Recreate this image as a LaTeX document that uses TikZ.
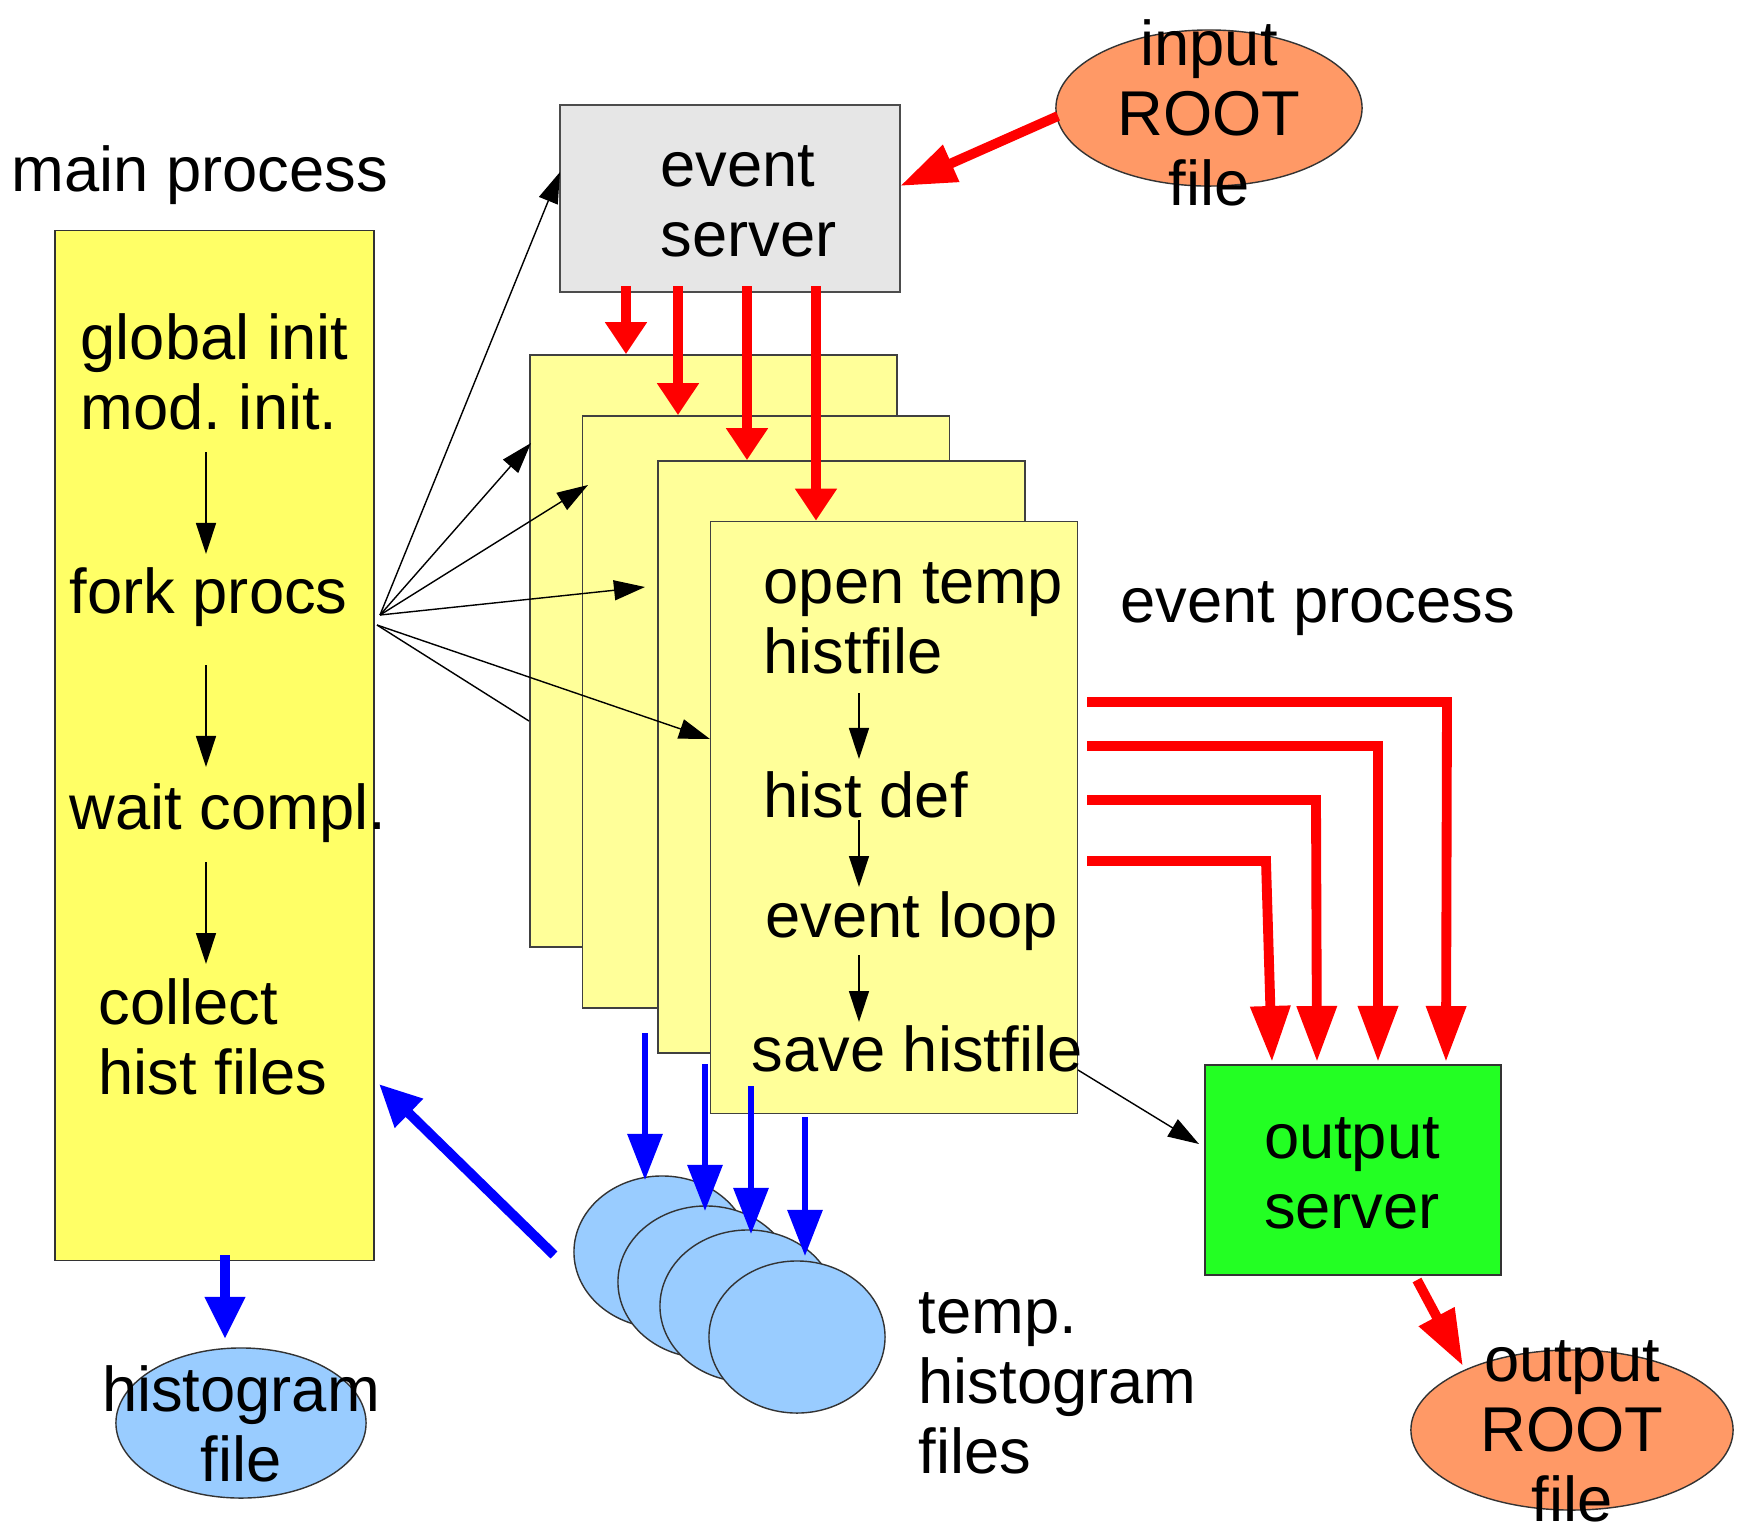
\documentclass[tikz,border=0pt]{standalone}
\usepackage{fontspec}
\setmainfont{Liberation Sans}
\usepackage{xcolor}
\usepackage{tikz}
\usetikzlibrary{arrows.meta,positioning,shapes.geometric}
\frenchspacing
\definecolor{mainyellow}{RGB}{255,255,102}
\definecolor{procyellow}{RGB}{255,255,153}
\definecolor{servergrey}{RGB}{230,230,230}
\definecolor{outgreen}{RGB}{35,255,35}
\definecolor{rootorange}{RGB}{255,153,102}
\definecolor{histblue}{RGB}{153,204,255}
\tikzset{
  label/.style={inner sep=0pt,align=left,font=\fontsize{18}{19.9}\selectfont},
  mainbox/.style={rectangle,draw=black!80,fill=mainyellow,minimum width=3.19cm,
    minimum height=10.29cm,inner sep=0pt},
  procbox/.style={rectangle,draw=black!75,fill=procyellow,minimum width=3.67cm,
    minimum height=5.92cm,inner sep=0pt},
  serverbox/.style={rectangle,draw=black!70,fill=servergrey,minimum width=3.40cm,
    minimum height=1.87cm,inner sep=0pt},
  outbox/.style={rectangle,draw=black!80,fill=outgreen,minimum width=2.96cm,
    minimum height=2.10cm,inner sep=0pt},
  rootfile/.style={ellipse,draw=black!80,fill=rootorange,inner sep=0pt},
  histfile/.style={ellipse,draw=black!80,fill=histblue,inner sep=0pt},
  flow/.style={-{Triangle[length=3.1mm,width=2mm]},line width=0.4pt},
  redflow/.style={-{Triangle[length=3.2mm,width=4mm]},line width=2.8pt,red},
  redbent/.style={-{Triangle[length=5.6mm,width=3.8mm]},line width=2.8pt,red},
  blueflow/.style={-{Triangle[length=4.6mm,width=3.4mm]},line width=1.7pt,blue},
  bluethick/.style={-{Triangle[length=4.2mm,width=3.8mm]},line width=2.8pt,blue}
}
\begin{document}
\begin{tikzpicture}[x=0.01cm,y=-0.01cm]
\useasboundingbox (0,0) rectangle (1738,1526);

% main process
\node[mainbox] (main) at (214.5,745.5) {};
\node[label,anchor=base west] (mainlbl) at (11,191) {main process};
\node[label,anchor=base west] (init) at (80,429) {global init\\mod. init.};
\node[label,anchor=base west] (fork) at (69,613) {fork procs};
\node[label,anchor=base west] (wait) at (69,829) {wait compl.};
\node[label,anchor=base west] (collect) at (98,1094) {collect\\hist files};
\foreach \n/\ya/\yb in {1/452/554,2/665/767,3/862/964}{
  \coordinate (ms\n) at (206,\ya);
  \coordinate (me\n) at (206,\yb);
  \draw[flow] (ms\n) -- (me\n);
}

% event server and input
\node[serverbox] (es) at (730,198.5) {};
\node[label,anchor=base west] (eslbl) at (660,256) {event\\server};
\node[rootfile,minimum width=3.06cm,minimum height=1.56cm] (inroot) at (1209,108) {};
\node[label,align=center,anchor=base] (inlbl) at (1209,205) {input\\ROOT\\file};

% event processes
\node[procbox] (ep1) at (713.5,651) {};
\node[procbox] (ep2) at (766,712) {};
\node[procbox] (ep3) at (841.5,757) {};
\node[procbox] (ep4) at (894,817.5) {};
\node[label,anchor=base west] (open) at (763,673) {open temp\\histfile};
\node[label,anchor=base west] (hdef) at (763,817) {hist def};
\node[label,anchor=base west] (loop) at (765,937) {event loop};
\node[label,anchor=base west] (save) at (751,1071) {save histfile};
\node[label,anchor=base west] (evlbl) at (1120,622) {event process};
\foreach \n/\ya/\yb in {1/693/759,2/820/887,3/955/1022}{
  \coordinate (ps\n) at (859,\ya);
  \coordinate (pe\n) at (859,\yb);
  \draw[flow] (ps\n) -- (pe\n);
}

% output server and file
\node[outbox] (os) at (1353,1170) {};
\node[label,align=center,anchor=base] (oslbl) at (1352,1228) {output\\server};
\node[rootfile,minimum width=3.22cm,minimum height=1.60cm] (outroot) at (1572,1430) {};
\node[label,align=center,anchor=base] (outlbl) at (1572,1521) {output\\ROOT\\file};

% histogram files
\node[histfile,minimum width=2.50cm,minimum height=1.50cm] (hist) at (241,1423) {};
\node[label,align=center,anchor=base] (histlbl) at (241,1481) {histogram\\file};
\foreach \n/\x/\y in {1/662/1252,2/706/1282,3/748/1306,4/797/1337}
  \node[histfile,minimum width=1.76cm,minimum height=1.52cm] (tmp\n) at (\x,\y) {};
\node[label,anchor=base west] (tmplbl) at (918,1473) {temp.\\histogram\\files};

% fork arrows
\coordinate (fk) at (380,615);
\coordinate (fk2) at (377,625);
\coordinate (f1) at (560,172);
\coordinate (f2) at (531,443);
\coordinate (f3) at (588,485);
\coordinate (f4) at (645,587);
\coordinate (f5) at (710,739);
\coordinate (f6) at (529,721);
\draw[flow] (fk) -- (f1);
\draw[flow] (fk) -- (f2);
\draw[flow] (fk) -- (f3);
\draw[flow] (fk) -- (f4);
\draw[flow] (fk2) -- (f5);
\draw[line width=0.4pt] (fk2) -- (f6);

% events to processes
\foreach \n/\x in {1/626,2/678,3/747,4/816}{
  \coordinate (src\n) at (\x,286);
  \draw[redflow] (src\n) -- (src\n |- ep\n.north);
}
\coordinate (inst) at (1058,116);
\coordinate (inend) at (900,186);
\draw[redbent] (inst) -- (inend);

% processes to output server
\foreach \n/\y/\xc/\xt in {1/702/1447/1446,2/746/1378/1378,3/800/1316/1317,4/861/1266/1272}{
  \coordinate (rb\n) at (1087,\y);
  \coordinate (rc\n) at (\xc,\y);
  \coordinate (rt\n) at (\xt,1062);
  \draw[redbent] (rb\n) -- (rc\n) -- (rt\n);
}
\coordinate (svst) at (1078,1070);
\coordinate (svend) at (1199,1144);
\draw[flow] (svst) -- (svend);
\coordinate (osst) at (1417,1280);
\coordinate (osend) at (1463,1366);
\draw[redbent] (osst) -- (osend);

% histogram flows
\foreach \n/\x/\ya/\yb in {1/645/1033/1180,2/705/1064/1211,3/751/1086/1234,4/805/1117/1256}{
  \coordinate (bs\n) at (\x,\ya);
  \coordinate (be\n) at (\x,\yb);
  \draw[blueflow] (bs\n) -- (be\n);
}
\coordinate (tmpst) at (554,1255);
\coordinate (tmpend) at (379,1084);
\draw[bluethick] (tmpst) -- (tmpend);
\coordinate (hst) at (225,1255);
\coordinate (hend) at (225,1339);
\draw[bluethick] (hst) -- (hend);
\end{tikzpicture}
\end{document}
